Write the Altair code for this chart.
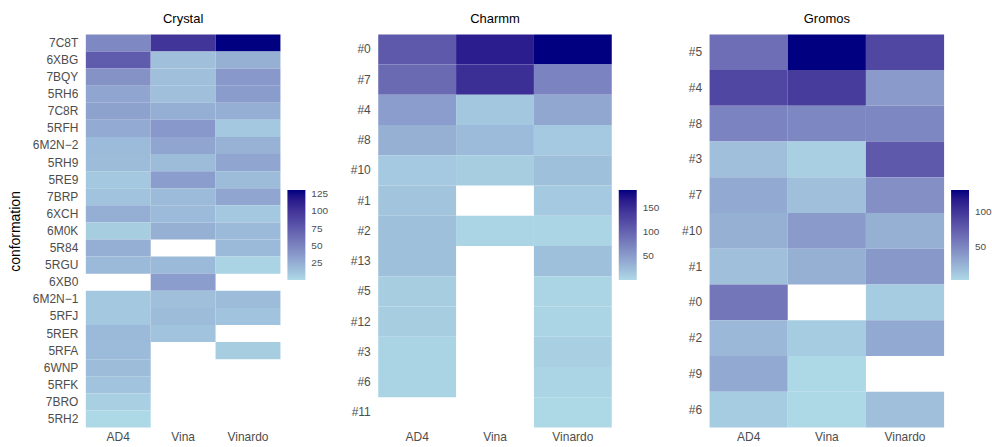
import altair as alt
import pandas as pd

methods = ["AD4", "Vina", "Vinardo"]

# Crystal structures
crystal_conf = ["7C8T", "6XBG", "7BQY", "5RH6", "7C8R", "5RFH", "6M2N\u22122", "5RH9", "5RE9",
                "7BRP", "6XCH", "6M0K", "5R84", "5RGU", "6XB0", "6M2N\u22121", "5RFJ", "5RER",
                "5RFA", "6WNP", "5RFK", "7BRO", "5RH2"]
crystal_ad4 = [48, 75, 42, 30, 32, 27, 18, 17, 10, 13, 25, 7, 25, 19, None, 10, 10, 19, 18, 17, 13, 6, 1]
crystal_vina = [100, 15, 15, 15, 25, 38, 30, 17, 35, 18, 18, 24, None, 19, 35, 15, 17, 13,
                None, None, None, None, None]
crystal_vinardo = [131, 24, 38, 36, 25, 10, 23, 30, 17, 30, 10, 19, 19, 4, None, 17, 13, None,
                   7, None, None, None, None]

# Charmm clusters
charmm_conf = ["#0", "#7", "#4", "#8", "#10", "#1", "#2", "#13", "#5", "#12", "#3", "#6", "#11"]
charmm_ad4 = [110, 95, 50, 34, 13, 17, 21, 21, 10, 10, 5, 5, None]
charmm_vina = [165, 150, 15, 26, 10, None, 4, None, None, None, None, None, None]
charmm_vinardo = [188, 72, 42, 13, 21, 13, 4, 21, 4, 4, 8, 4, 1]

# Gromos clusters
gromos_conf = ["#5", "#4", "#8", "#3", "#7", "#10", "#1", "#0", "#2", "#9", "#6"]
gromos_ad4 = [65, 90, 52, 17, 30, 26, 17, 60, 21, 30, 10]
gromos_vina = [132, 97, 50, 8, 17, 38, 26, None, 10, 3, 3]
gromos_vinardo = [90, 38, 50, 78, 45, 26, 40, 10, 30, None, 17]

LOW, HIGH = "#ADD8E6", "#000080"
FONT = "Liberation Sans"


def frame(conf, ad4, vina, vinardo):
    rows = []
    for c, a, v, w in zip(conf, ad4, vina, vinardo):
        for m, val in zip(methods, (a, v, w)):
            if val is not None:
                rows.append({"conformation": c, "method": m, "value": val})
    return pd.DataFrame(rows)


def panel(title, conf, ad4, vina, vinardo, width, ticks, ytitle=None):
    df = frame(conf, ad4, vina, vinardo)
    lo, hi = float(df["value"].min()), float(df["value"].max())
    yaxis = dict(domain=False, ticks=False, grid=False, labelFontSize=12, labelColor="#4d4d4d",
                 labelPadding=8, labelFont=FONT)
    if ytitle:
        yaxis.update(title=ytitle, titleFontSize=14, titleFontWeight="normal",
                     titleColor="black", titleFont=FONT, titlePadding=10)
    else:
        yaxis.update(title=None)
    return alt.Chart(df).mark_rect().encode(
        x=alt.X("method:N", sort=methods,
                axis=alt.Axis(title=None, domain=False, ticks=False, grid=False, labelAngle=0,
                              labelFontSize=12, labelColor="#4d4d4d", labelPadding=4,
                              labelFont=FONT)),
        y=alt.Y("conformation:N", sort=conf, axis=alt.Axis(**yaxis)),
        color=alt.Color("value:Q",
                        scale=alt.Scale(domain=[lo, hi], range=[LOW, HIGH],
                                        interpolate="lab", zero=False, nice=False),
                        legend=alt.Legend(title=None, orient="none", legendX=width + 7,
                                          legendY=156, gradientLength=90,
                                          gradientThickness=18, values=ticks,
                                          labelFontSize=10, labelColor="#4d4d4d",
                                          labelFont=FONT, labelOffset=6,
                                          gradientStrokeWidth=0)),
    ).properties(
        width=width, height=394,
        title=alt.TitleParams(title, fontSize=13, fontWeight="normal", font=FONT,
                              color="black", anchor="middle", offset=8),
    )


crystal = panel("Crystal", crystal_conf, crystal_ad4, crystal_vina, crystal_vinardo, 195,
                [25, 50, 75, 100, 125], ytitle="conformation")
charmm = panel("Charmm", charmm_conf, charmm_ad4, charmm_vina, charmm_vinardo, 234,
               [50, 100, 150])
gromos = panel("Gromos", gromos_conf, gromos_ad4, gromos_vina, gromos_vinardo, 235,
               [50, 100])

chart = alt.hconcat(crystal, charmm, gromos, spacing=98, bounds="flush").resolve_scale(
    color="independent", y="independent", x="independent"
).configure(
    background="white",
    padding={"left": 8, "top": 13, "right": 0, "bottom": 0},
).configure_view(stroke=None).configure_title(fontWeight="normal")

chart.save("out.html", embed_options={"renderer": "svg", "actions": False})
